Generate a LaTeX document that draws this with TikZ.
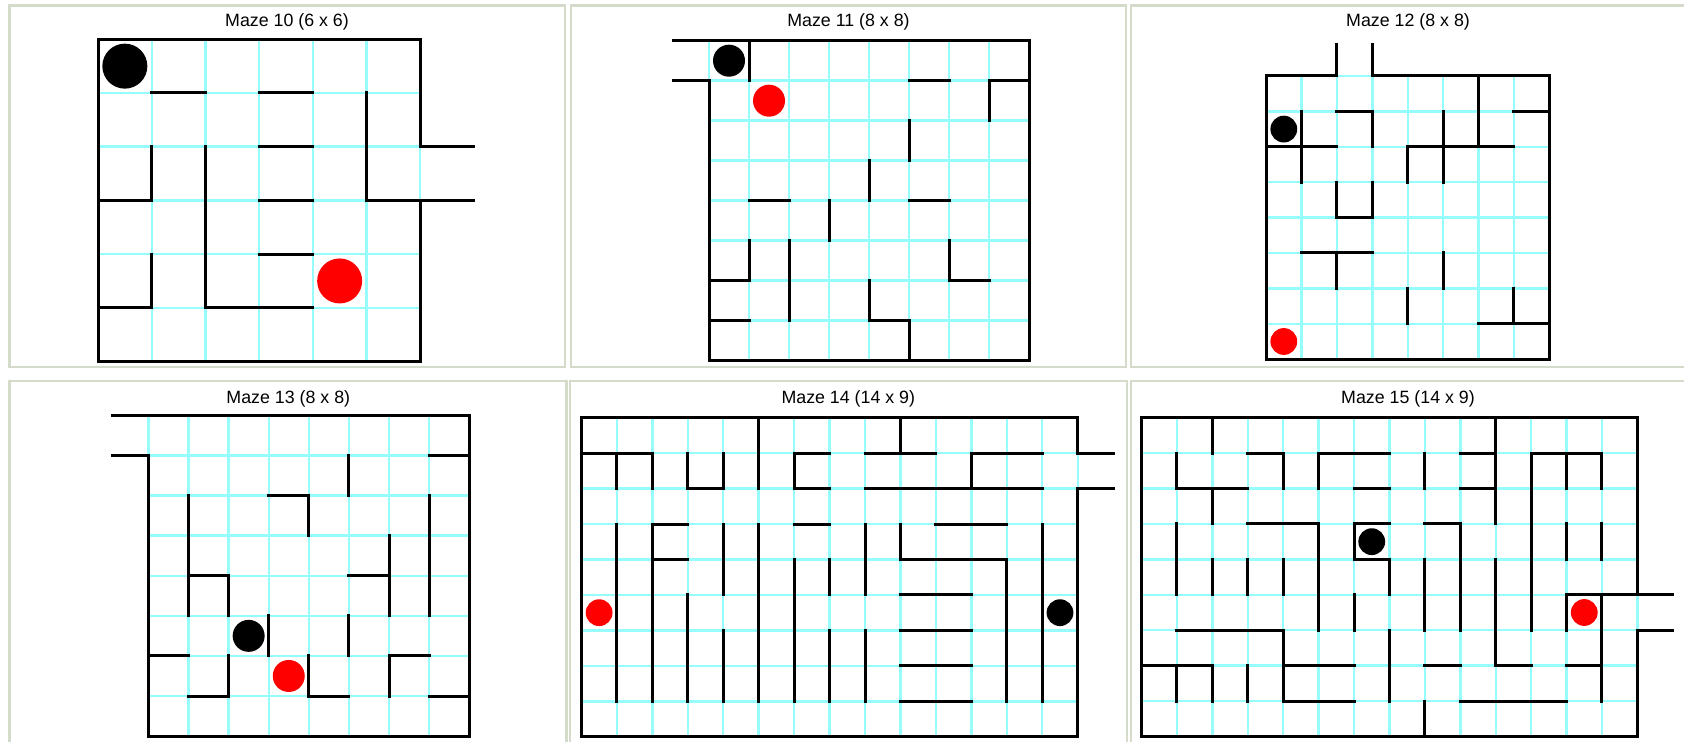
\documentclass[tikz,border=0pt]{standalone}
\usepackage{fontspec}
\setmainfont{Liberation Sans}
\definecolor{gridcyan}{RGB}{150,252,252}
\definecolor{framecol}{RGB}{212,219,202}
\definecolor{dotred}{RGB}{255,0,0}
\tikzset{
  wall/.style={line width=1.5pt, line cap=rect, line join=miter, black},
  gridl/.style={line width=1.2pt, gridcyan},
  frameline/.style={line width=1.3pt, framecol, line cap=rect},
  mtitle/.style={anchor=base, inner sep=0pt, font=\fontsize{8.9}{10}\selectfont},
  blackdot/.style={fill=black},
  reddot/.style={fill=dotred},
}
\newcommand{\mazegrid}[2]{%
  \foreach \i in {0,...,#1} {\draw[gridl] (\i,0) -- (\i,#2);}
  \foreach \j in {0,...,#2} {\draw[gridl] (0,\j) -- (#1,\j);}
}
\begin{document}
\begin{tikzpicture}[x=0.5pt, y=-0.5pt]
\fill[white] (0,0) rectangle (1684,742);
\useasboundingbox (0,0) rectangle (1684,742);

% panel frames
\draw[frameline] (9.5,5.5) rectangle (565,367);
\draw[frameline] (571,5.5) rectangle (1126,367);
\draw[frameline] (1684,5.5) -- (1131,5.5) -- (1131,367) -- (1684,367);
\draw[frameline] (9.5,742) -- (9.5,381) -- (566.5,381) -- (566.5,742);
\draw[frameline] (570,742) -- (570,381) -- (1127,381) -- (1127,742);
\draw[frameline] (1131,742) -- (1131,381) -- (1684,381);

% titles
\node[mtitle] (t10) at (287,27) {Maze 10 (6 x 6)};
\node[mtitle] (t11) at (848.5,27) {Maze 11 (8 x 8)};
\node[mtitle] (t12) at (1408,27) {Maze 12 (8 x 8)};
\node[mtitle] (t13) at (288.3,403.5) {Maze 13 (8 x 8)};
\node[mtitle] (t14) at (848.3,403.5) {Maze 14 (14 x 9)};
\node[mtitle] (t15) at (1408,403.5) {Maze 15 (14 x 9)};

% Maze 10
\begin{scope}[shift={(98,39.3)}, x=26.85pt, y=-26.85pt]
  \mazegrid{6}{6}
  \draw[wall] (7,2) -- (6,2) -- (6,0) -- (0,0) -- (0,6) -- (6,6) -- (6,3);
  \draw[wall] (7,3) -- (5,3) -- (5,1);
  \draw[wall] (1,1) -- (2,1);
  \draw[wall] (3,1) -- (4,1);
  \draw[wall] (3,2) -- (4,2);
  \draw[wall] (3,3) -- (4,3);
  \draw[wall] (3,4) -- (4,4);
  \draw[wall] (1,2) -- (1,3) -- (0,3);
  \draw[wall] (2,2) -- (2,5) -- (4,5);
  \draw[wall] (1,4) -- (1,5) -- (0,5);
  \fill[blackdot] (0.5,0.5) circle[radius=11.25pt];
  \fill[reddot] (4.5,4.5) circle[radius=11.25pt];
\end{scope}

% Maze 11
\begin{scope}[shift={(709,40.7)}, x=20pt, y=-20pt]
  \mazegrid{8}{8}
  \draw[wall] (-0.9,0) -- (8,0) -- (8,8) -- (0,8) -- (0,1) -- (-0.9,1);
  \draw[wall] (1,0) -- (1,1);
  \draw[wall] (5,1) -- (6,1);
  \draw[wall] (7,2) -- (7,1) -- (8,1);
  \draw[wall] (5,2) -- (5,3);
  \draw[wall] (4,3) -- (4,4);
  \draw[wall] (1,4) -- (2,4);
  \draw[wall] (5,4) -- (6,4);
  \draw[wall] (3,4) -- (3,5);
  \draw[wall] (1,5) -- (1,6) -- (0,6);
  \draw[wall] (2,5) -- (2,7);
  \draw[wall] (6,5) -- (6,6) -- (7,6);
  \draw[wall] (0,7) -- (1,7);
  \draw[wall] (4,6) -- (4,7) -- (5,7) -- (5,8);
  \fill[blackdot] (0.5,0.5) circle[radius=8pt];
  \fill[reddot] (1.5,1.5) circle[radius=8pt];
\end{scope}

% Maze 12
\begin{scope}[shift={(1266.1,76)}, x=17.7pt, y=-17.7pt]
  \mazegrid{8}{8}
  \draw[wall] (2,-0.9) -- (2,0) -- (0,0) -- (0,8) -- (8,8) -- (8,0) -- (3,0) -- (3,-0.9);
  \draw[wall] (6,0) -- (6,2);
  \draw[wall] (7,1) -- (8,1);
  \draw[wall] (1,1) -- (1,3);
  \draw[wall] (0,2) -- (2,2);
  \draw[wall] (2,1) -- (3,1) -- (3,2);
  \draw[wall] (5,1) -- (5,3);
  \draw[wall] (4,3) -- (4,2) -- (7,2);
  \draw[wall] (2,3) -- (2,4) -- (3,4) -- (3,3);
  \draw[wall] (1,5) -- (3,5);
  \draw[wall] (2,5) -- (2,6);
  \draw[wall] (5,5) -- (5,6);
  \draw[wall] (4,6) -- (4,7);
  \draw[wall] (7,6) -- (7,7);
  \draw[wall] (6,7) -- (8,7);
  \fill[blackdot] (0.5,1.5) circle[radius=6.7pt];
  \fill[reddot] (0.5,7.5) circle[radius=6.7pt];
\end{scope}

% Maze 13
\begin{scope}[shift={(148.4,415.3)}, x=20.05pt, y=-20.05pt]
  \mazegrid{8}{8}
  \draw[wall] (-0.9,0) -- (8,0) -- (8,8) -- (0,8) -- (0,1) -- (-0.9,1);
  \draw[wall] (7,1) -- (8,1);
  \draw[wall] (5,1) -- (5,2);
  \draw[wall] (3,2) -- (4,2) -- (4,3);
  \draw[wall] (1,2) -- (1,5);
  \draw[wall] (1,4) -- (2,4) -- (2,5);
  \draw[wall] (7,2) -- (7,5);
  \draw[wall] (6,3) -- (6,5);
  \draw[wall] (5,4) -- (6,4);
  \draw[wall] (3,5) -- (3,6);
  \draw[wall] (5,5) -- (5,6);
  \draw[wall] (0,6) -- (1,6);
  \draw[wall] (2,6) -- (2,7) -- (1,7);
  \draw[wall] (4,6) -- (4,7) -- (5,7);
  \draw[wall] (7,6) -- (6,6) -- (6,7);
  \draw[wall] (7,7) -- (8,7);
  \fill[blackdot] (2.5,5.5) circle[radius=8pt];
  \fill[reddot] (3.5,6.5) circle[radius=8pt];
\end{scope}

% Maze 14
\begin{scope}[shift={(581.4,417.7)}, x=17.725pt, y=-17.725pt]
  \mazegrid{14}{9}
  \draw[wall] (15,1) -- (14,1) -- (14,0) -- (0,0) -- (0,9) -- (14,9) -- (14,2) -- (15,2);
  \draw[wall] (5,0) -- (5,2);
  \draw[wall] (9,0) -- (9,1);
  \draw[wall] (0,1) -- (2,1) -- (2,2);
  \draw[wall] (1,1) -- (1,2);
  \draw[wall] (3,1) -- (3,2) -- (4,2) -- (4,1);
  \draw[wall] (7,1) -- (6,1) -- (6,2) -- (7,2);
  \draw[wall] (8,1) -- (10,1);
  \draw[wall] (8,2) -- (13,2);
  \draw[wall] (11,2) -- (11,1) -- (13,1);
  \draw[wall] (1,3) -- (1,8);
  \draw[wall] (3,3) -- (2,3) -- (2,8);
  \draw[wall] (2,4) -- (3,4);
  \draw[wall] (4,3) -- (4,5);
  \draw[wall] (5,3) -- (5,8);
  \draw[wall] (6,3) -- (7,3);
  \draw[wall] (8,3) -- (8,5);
  \draw[wall] (9,3) -- (9,4) -- (12,4) -- (12,8);
  \draw[wall] (10,3) -- (12,3);
  \draw[wall] (13,3) -- (13,8);
  \draw[wall] (6,4) -- (6,8);
  \draw[wall] (7,4) -- (7,5);
  \draw[wall] (3,5) -- (3,8);
  \draw[wall] (9,5) -- (11,5);
  \draw[wall] (9,6) -- (11,6);
  \draw[wall] (9,7) -- (11,7);
  \draw[wall] (9,8) -- (11,8);
  \draw[wall] (4,6) -- (4,8);
  \draw[wall] (7,6) -- (7,8);
  \draw[wall] (8,6) -- (8,8);
  \fill[reddot] (0.5,5.5) circle[radius=6.7pt];
  \fill[blackdot] (13.5,5.5) circle[radius=6.7pt];
\end{scope}

% Maze 15
\begin{scope}[shift={(1141.5,417.7)}, x=17.71pt, y=-17.71pt]
  \mazegrid{14}{9}
  \draw[wall] (14,5) -- (14,0) -- (0,0) -- (0,9) -- (14,9) -- (14,6) -- (15,6);
  \draw[wall] (15,5) -- (12,5) -- (12,6);
  \draw[wall] (2,0) -- (2,1);
  \draw[wall] (1,1) -- (1,2) -- (3,2);
  \draw[wall] (2,2) -- (2,3);
  \draw[wall] (3,1) -- (4,1) -- (4,2);
  \draw[wall] (5,2) -- (5,1) -- (7,1);
  \draw[wall] (6,2) -- (7,2);
  \draw[wall] (8,1) -- (8,2);
  \draw[wall] (9,1) -- (10,1);
  \draw[wall] (9,2) -- (10,2);
  \draw[wall] (10,0) -- (10,3);
  \draw[wall] (11,6) -- (11,1) -- (13,1) -- (13,2);
  \draw[wall] (12,1) -- (12,2);
  \draw[wall] (1,3) -- (1,5);
  \draw[wall] (3,3) -- (5,3) -- (5,6);
  \draw[wall] (7,3) -- (6,3) -- (6,4) -- (7,4) -- (7,5);
  \draw[wall] (8,3) -- (9,3) -- (9,6);
  \draw[wall] (12,3) -- (12,4);
  \draw[wall] (13,3) -- (13,4);
  \draw[wall] (2,4) -- (2,5);
  \draw[wall] (3,4) -- (3,5);
  \draw[wall] (4,4) -- (4,5);
  \draw[wall] (8,4) -- (8,6);
  \draw[wall] (10,4) -- (10,7) -- (11,7);
  \draw[wall] (6,5) -- (6,6);
  \draw[wall] (13,5) -- (13,8);
  \draw[wall] (12,7) -- (13,7);
  \draw[wall] (1,6) -- (4,6) -- (4,8) -- (6,8);
  \draw[wall] (4,7) -- (6,7);
  \draw[wall] (7,6) -- (7,8);
  \draw[wall] (0,7) -- (2,7) -- (2,8);
  \draw[wall] (1,7) -- (1,8);
  \draw[wall] (3,7) -- (3,8);
  \draw[wall] (8,7) -- (9,7);
  \draw[wall] (9,8) -- (12,8);
  \draw[wall] (8,8) -- (8,9);
  \fill[blackdot] (6.5,3.5) circle[radius=6.7pt];
  \fill[reddot] (12.5,5.5) circle[radius=6.7pt];
\end{scope}
\end{tikzpicture}
\end{document}
